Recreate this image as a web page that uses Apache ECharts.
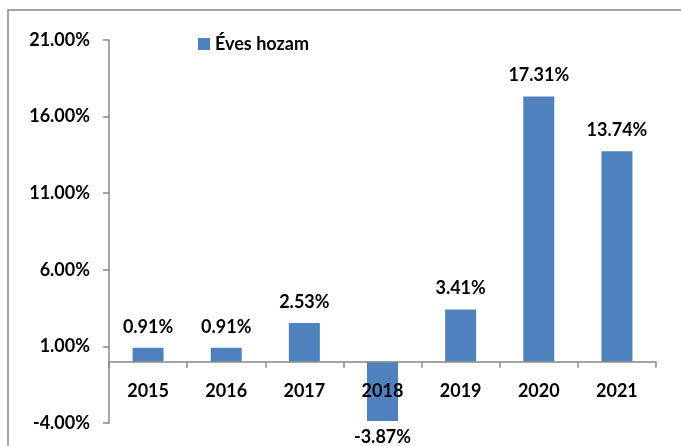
<!DOCTYPE html>
<html>
<head>
<meta charset="utf-8">
<script src="https://cdn.jsdelivr.net/npm/echarts@6/dist/echarts.min.js"></script>
<style>
	html, body { margin: 0; padding: 0; background: #fff; }
	#chart { width: 681px; height: 446px; }
</style>
</head>
<body>
<div id="chart"></div>
<script>
var years = ['2015', '2016', '2017', '2018', '2019', '2020', '2021'];
var returns = [0.91, 0.91, 2.53, -3.87, 3.41, 17.31, 13.74];
var seriesName = 'Éves hozam';

var font = 'Lato, "Open Sans", "Liberation Sans", sans-serif';
var axisGray = '#888888';

var yMin = -4;
var yMax = 21;
var gridTop = 40;
var gridBottom = 23;
var plotHeight = 446 - gridTop - gridBottom;
// shift the category axis up so that it sits on the 0 line
var zeroOffset = -plotHeight * (0 - yMin) / (yMax - yMin);

// negative bars get their label a bit closer
var barData = returns.map(function (v) {
	if (v < 0) {
		return { value: v, label: { distance: 7 } };
	}
	return v;
});

var chart = echarts.init(document.getElementById('chart'));

chart.setOption({
	backgroundColor: '#fff',
	animation: false,
	textStyle: { fontFamily: font },
	graphic: [
		{
			type: 'rect',
			shape: { x: 8, y: 10, width: 720, height: 480 },
			style: { fill: 'none', stroke: axisGray, lineWidth: 1.5 },
			silent: true
		}
	],
	legend: {
		data: [seriesName],
		left: 193,
		top: 30,
		itemWidth: 12,
		itemHeight: 12,
		itemGap: 5,
		icon: 'rect',
		textStyle: { fontFamily: font, fontWeight: 'bold', fontSize: 18, color: '#000' }
	},
	grid: {
		left: 109,
		right: 25,
		top: gridTop,
		bottom: gridBottom,
		containLabel: false,
		outerBoundsMode: 'none'
	},
	xAxis: {
		type: 'category',
		data: years,
		z: 5,
		offset: zeroOffset,
		axisLine: { onZero: false, lineStyle: { color: axisGray, width: 1.5 } },
		axisTick: { show: true, length: 6, alignWithLabel: false, lineStyle: { color: axisGray, width: 1.5 } },
		axisLabel: {
			margin: 20,
			color: '#000',
			fontFamily: font,
			fontWeight: 'bold',
			fontSize: 18
		}
	},
	yAxis: {
		type: 'value',
		min: yMin,
		max: yMax,
		interval: 5,
		splitLine: { show: false },
		axisLine: { show: true, lineStyle: { color: axisGray, width: 1.5 } },
		axisTick: { show: true, length: 6, lineStyle: { color: axisGray, width: 1.5 } },
		axisLabel: {
			margin: 19,
			color: '#000',
			fontFamily: font,
			fontWeight: 'bold',
			fontSize: 18,
			formatter: function (v) {
				return v.toFixed(2) + '%';
			}
		}
	},
	series: [
		{
			name: seriesName,
			type: 'bar',
			data: barData,
			barWidth: 31,
			itemStyle: { color: '#4F81BD' },
			label: {
				show: true,
				position: 'outside',
				distance: 12,
				color: '#000',
				fontFamily: font,
				fontWeight: 'bold',
				fontSize: 18,
				formatter: function (p) {
					return p.value.toFixed(2) + '%';
				}
			}
		}
	]
});
</script>
</body>
</html>
